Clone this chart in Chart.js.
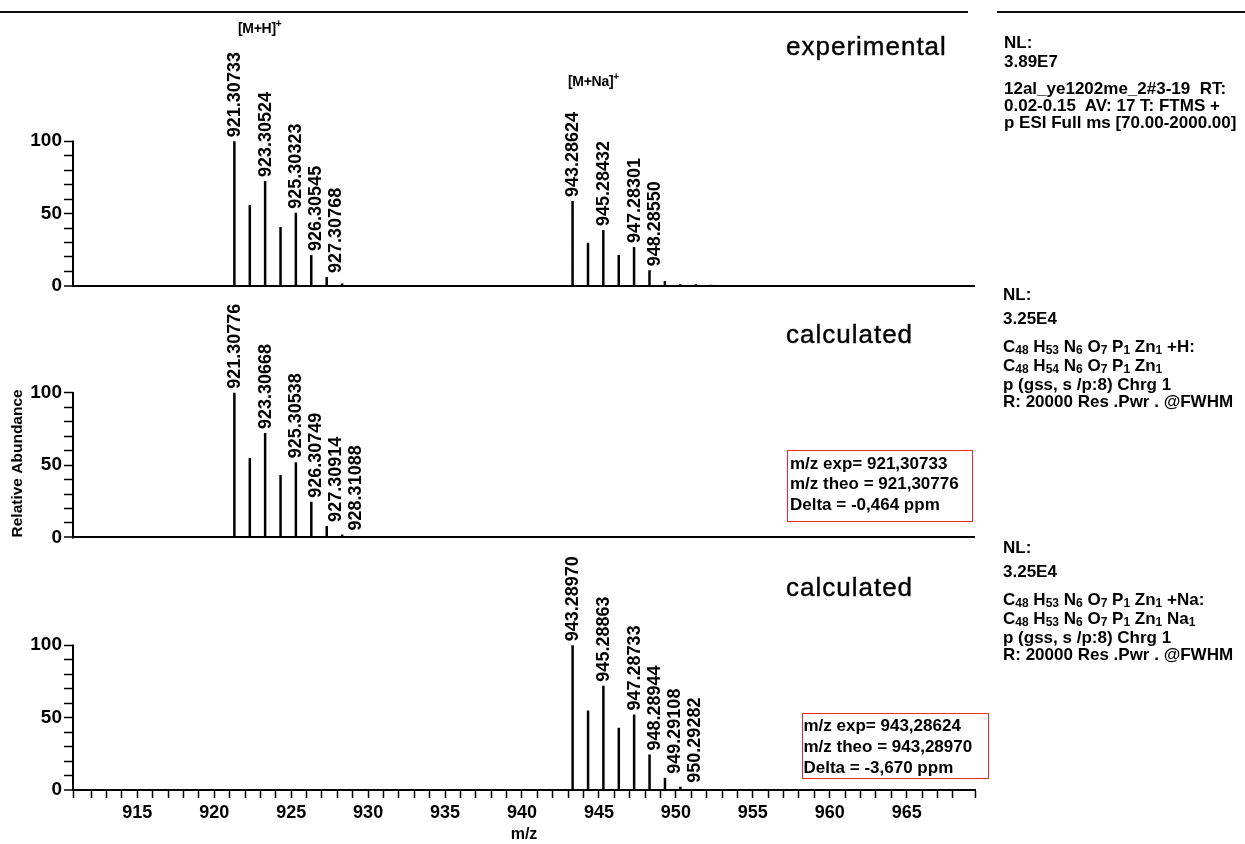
<!DOCTYPE html>
<html><head><meta charset="utf-8">
<script src="https://cdn.jsdelivr.net/npm/chart.js@4.4.1/dist/chart.umd.min.js"></script>
<style>
html,body{margin:0;padding:0;background:#fff;}
body{width:1245px;height:844px;position:relative;overflow:hidden;font-family:"Liberation Sans",Arial,sans-serif;color:#000;}
#wrap{position:absolute;left:0;top:0;width:1245px;height:844px;}
.t{position:absolute;white-space:pre;font-weight:bold;font-size:17px;line-height:19px;}
.big{position:absolute;white-space:nowrap;font-size:26px;line-height:26px;letter-spacing:1px;-webkit-text-stroke:0.4px #000;}
.ann{position:absolute;white-space:nowrap;font-weight:bold;font-size:14px;line-height:16px;letter-spacing:-0.3px;}
.box{position:absolute;border:1.5px solid #e8282e;box-sizing:border-box;}
.hl{position:absolute;height:2px;background:#111;top:11px;}
.t sub{font-size:12px;vertical-align:baseline;position:relative;top:2px;}
.ann sup{font-size:10px;vertical-align:baseline;position:relative;top:-6px;}
</style></head>
<body>
<div id="wrap"><canvas id="c" width="1245" height="844"></canvas></div>

<div class="hl" style="left:0;width:968px"></div>
<div class="hl" style="left:997px;width:248px"></div>

<div class="ann" style="left:238px;top:20px">[M+H]<sup>+</sup></div>
<div class="ann" style="left:568px;top:73px">[M+Na]<sup>+</sup></div>

<div class="big" style="left:786px;top:33px">experimental</div>
<div class="big" style="left:786px;top:321px">calculated</div>
<div class="big" style="left:786px;top:574px">calculated</div>

<div class="t" style="left:1004px;top:33px">NL:</div>
<div class="t" style="left:1004px;top:52px">3.89E7</div>
<div class="t" style="left:1004px;top:79px">12al_ye1202me_2#3-19  RT:</div>
<div class="t" style="left:1004px;top:96px">0.02-0.15  AV: 17 T: FTMS +</div>
<div class="t" style="left:1004px;top:112.5px">p ESI Full ms [70.00-2000.00]</div>

<div class="t" style="left:1003px;top:285px">NL:</div>
<div class="t" style="left:1003px;top:308.5px">3.25E4</div>
<div class="t" style="left:1003px;top:337px">C<sub>48</sub> H<sub>53</sub> N<sub>6</sub> O<sub>7</sub> P<sub>1</sub> Zn<sub>1</sub> +H:</div>
<div class="t" style="left:1003px;top:355.5px">C<sub>48</sub> H<sub>54</sub> N<sub>6</sub> O<sub>7</sub> P<sub>1</sub> Zn<sub>1</sub></div>
<div class="t" style="left:1003px;top:375px">p (gss, s /p:8) Chrg 1</div>
<div class="t" style="left:1003px;top:392px">R: 20000 Res .Pwr . @FWHM</div>

<div class="t" style="left:1003px;top:538px">NL:</div>
<div class="t" style="left:1003px;top:561.5px">3.25E4</div>
<div class="t" style="left:1003px;top:590px">C<sub>48</sub> H<sub>53</sub> N<sub>6</sub> O<sub>7</sub> P<sub>1</sub> Zn<sub>1</sub> +Na:</div>
<div class="t" style="left:1003px;top:608.5px">C<sub>48</sub> H<sub>53</sub> N<sub>6</sub> O<sub>7</sub> P<sub>1</sub> Zn<sub>1</sub> Na<sub>1</sub></div>
<div class="t" style="left:1003px;top:628px">p (gss, s /p:8) Chrg 1</div>
<div class="t" style="left:1003px;top:645px">R: 20000 Res .Pwr . @FWHM</div>

<div class="box" style="left:787px;top:450px;width:186px;height:72px"></div>
<div class="t" style="left:790px;top:453.5px">m/z exp= 921,30733</div>
<div class="t" style="left:790px;top:474px">m/z theo = 921,30776</div>
<div class="t" style="left:790px;top:494.5px">Delta = -0,464 ppm</div>

<div class="box" style="left:801.5px;top:713px;width:187px;height:66px"></div>
<div class="t" style="left:803.5px;top:716px">m/z exp= 943,28624</div>
<div class="t" style="left:803.5px;top:737px">m/z theo = 943,28970</div>
<div class="t" style="left:803.5px;top:758px">Delta = -3,670 ppm</div>

<script>
// ---------- data ----------
const expMz  = [921.30733, 922.3104, 923.30524, 924.3070, 925.30323, 926.30545, 927.30768, 928.3098,
                943.28624, 944.2895, 945.28432, 946.2868, 947.28301, 948.28550, 949.2878, 950.2901, 951.2920, 952.2940];
const expInt = [100, 55.9, 72.4, 40.7, 50.6, 21.4, 6.2, 1.6,
                58.6, 29.9, 38.6, 21.4, 26.9, 10.8, 3.4, 1.1, 1.2, 0.8];
const expLabeled = [921.30733, 923.30524, 925.30323, 926.30545, 927.30768, 943.28624, 945.28432, 947.28301, 948.28550];

const calcHMz  = [921.30776, 922.3110, 923.30668, 924.3085, 925.30538, 926.30749, 927.30914, 928.31088, 929.3125];
const calcHInt = [100, 54.9, 72.1, 43.2, 51.9, 24.7, 8.0, 2.1, 0.4];
const calcHLabeled = [921.30776, 923.30668, 925.30538, 926.30749, 927.30914, 928.31088];

const calcNaMz  = [943.28970, 944.2930, 945.28863, 946.2905, 947.28733, 948.28944, 949.29108, 950.29282, 951.2945];
const calcNaInt = [100, 54.9, 72.1, 43.0, 52.2, 24.5, 8.5, 2.3, 0.4];
const calcNaLabeled = [943.28970, 945.28863, 947.28733, 948.28944, 949.29108, 950.29282];

const xMin = 910.82, xMax = 969.44;
const yTickLabels = [0, 50, 100];
const FONT = '"Liberation Sans", Arial, sans-serif';

// ---------- helpers ----------
function sticks(mz, inten) {
  const pts = [];
  mz.forEach((m, i) => { pts.push({x: m, y: 0}, {x: m, y: inten[i]}, {x: m, y: null}); });
  return pts;
}
function peakSet(mz, inten, labeled, yId) {
  return {
    data: sticks(mz, inten), yAxisID: yId, peakMz: mz, peakInt: inten, labeled: labeled,
    borderColor: '#000', borderWidth: 2.5, pointRadius: 0, spanGaps: false, tension: 0,
    borderCapStyle: 'butt', fill: false
  };
}
const PX_PER_UNIT = 1.45;
function yScale(heightPx, order, title) {
  return {
    type: 'linear', position: 'left', stack: 'panels', stackWeight: heightPx, weight: order,
    min: 0, max: heightPx / PX_PER_UNIT,
    border: {display: false},
    grid: {
      drawOnChartArea: true, drawTicks: true, tickLength: 9, tickWidth: 1.5, tickColor: '#000',
      color: c => (c.tick && c.tick.value === 0) ? '#000' : 'rgba(0,0,0,0)',
      lineWidth: c => (c.tick && c.tick.value === 0) ? 2 : 1
    },
    ticks: {
      stepSize: 10, autoSkip: false, padding: 2, color: '#000',
      font: {family: FONT, size: 19, weight: 'bold'},
      callback: v => yTickLabels.includes(v) ? String(v) : ''
    },
    afterBuildTicks: s => { s.ticks = s.ticks.filter(t => t.value <= 100.0001); },
    afterFit: s => { s.width = 73; },
    title: title ? {
      display: true, text: title, align: 'start', color: '#000',
      font: {family: FONT, size: 15.5, weight: 'bold'}, padding: {top: 8.7, bottom: 0}
    } : {display: false}
  };
}

// ---------- plugins ----------
const yAxisLines = {
  id: 'yAxisLines',
  afterDraw(chart) {
    const ctx = chart.ctx, x = chart.chartArea.left;
    ['yTop', 'yMid', 'yBot'].forEach(id => {
      const s = chart.scales[id];
      ctx.save();
      ctx.strokeStyle = '#000'; ctx.lineWidth = 2;
      ctx.beginPath();
      ctx.moveTo(x, s.getPixelForValue(0) + 1);
      ctx.lineTo(x, s.getPixelForValue(100) - 0.75);
      ctx.stroke();
      ctx.restore();
    });
  }
};
const peakLabels = {
  id: 'peakLabels',
  afterDatasetsDraw(chart) {
    const ctx = chart.ctx, xs = chart.scales.x;
    chart.data.datasets.forEach(ds => {
      const ys = chart.scales[ds.yAxisID];
      let prev = -1e9;
      ctx.save();
      ctx.font = 'bold 18px ' + FONT;
      ctx.fillStyle = '#000';
      ctx.textAlign = 'left';
      ctx.textBaseline = 'middle';
      ds.peakMz.forEach((m, k) => {
        if (!ds.labeled.includes(m)) return;
        const px = xs.getPixelForValue(m);
        const py = ys.getPixelForValue(ds.peakInt[k]);
        const lx = Math.max(px, prev + 20);
        prev = lx;
        ctx.save();
        ctx.translate(lx + 0.5, py - 4);
        ctx.rotate(-Math.PI / 2);
        ctx.fillText(m.toFixed(5), 0, 0);
        ctx.restore();
      });
      ctx.restore();
    });
  }
};

new Chart(document.getElementById('c'), {
  type: 'line',
  data: {
    datasets: [
      peakSet(expMz, expInt, expLabeled, 'yTop'),
      peakSet(calcHMz, calcHInt, calcHLabeled, 'yMid'),
      peakSet(calcNaMz, calcNaInt, calcNaLabeled, 'yBot')
    ]
  },
  options: {
    responsive: false, animation: false, devicePixelRatio: 1,
    layout: {padding: {left: 0, right: 270, top: 12, bottom: 0}},
    plugins: {legend: {display: false}, tooltip: {enabled: false}},
    scales: {
      x: {
        type: 'linear', position: 'bottom', min: xMin, max: xMax,
        border: {display: true, color: '#000', width: 2},
        grid: {drawOnChartArea: false, drawTicks: true, tickLength: 8, tickWidth: 1.5, tickColor: '#000'},
        ticks: {
          stepSize: 1, autoSkip: false, maxRotation: 0, padding: 4, color: '#000',
          font: {family: FONT, size: 18, weight: 'bold'},
          callback: v => (Math.abs(v % 5) < 1e-6) ? String(v) : ''
        },
        title: {display: true, text: 'm/z', color: '#000', font: {family: FONT, size: 16, weight: 'bold'}, padding: {top: 0, bottom: 0}},
        afterFit: s => { s.height = 54; }
      },
      yBot: yScale(253, 1, null),
      yMid: yScale(252, 2, 'Relative Abundance'),
      yTop: yScale(273, 3, null)
    }
  },
  plugins: [yAxisLines, peakLabels]
});
</script>
</body></html>
